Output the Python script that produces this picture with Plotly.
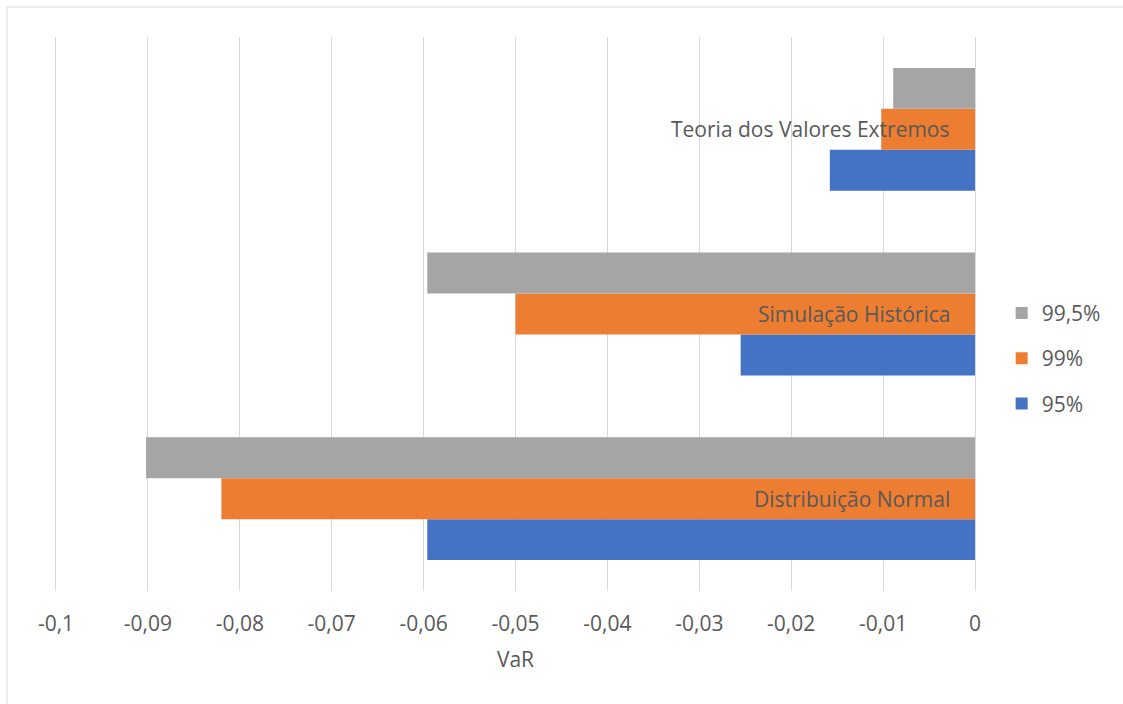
import plotly.graph_objects as go

# Value at Risk by method and confidence level
methods = ["Distribuição Normal", "Simulação Histórica", "Teoria dos Valores Extremos"]
levels = ["95%", "99%", "99,5%"]
var_95 = [-0.0596, -0.0255, -0.0158]
var_99 = [-0.0820, -0.0500, -0.0102]
var_995 = [-0.0902, -0.0596, -0.0089]
colors = ["#4472C4", "#ED7D31", "#A5A5A5"]
x_ticks = [-0.1, -0.09, -0.08, -0.07, -0.06, -0.05, -0.04, -0.03, -0.02, -0.01, 0]

FONT = "Open Sans"
TXT = "#595959"
GRID = "#D9D9D9"

fig = go.Figure()
for i, (name, vals, col) in enumerate(zip(levels, [var_95, var_99, var_995], colors)):
    fig.add_trace(go.Bar(
        y=methods, x=vals, name=name, orientation="h",
        marker=dict(color=col, line=dict(width=0)),
        legendgroup=name, legendrank=len(levels) - i,
    ))

# category names sit just left of the zero line, over the bars
annotations = [
    dict(x=0, y=m, xref="x", yref="y", text=m, showarrow=False,
         xanchor="right", yanchor="middle", xshift=-23,
         font=dict(family=FONT, size=21, color=TXT))
    for m in methods
]

fig.update_layout(
    width=1123, height=704,
    margin=dict(l=56, r=148, t=37, b=113),
    paper_bgcolor="white", plot_bgcolor="white",
    separators=", ",
    barmode="group", bargap=0.335, bargroupgap=0,
    font=dict(family=FONT, color=TXT, size=21),
    showlegend=True,
    legend=dict(
        x=1.029, y=0.42, xanchor="left", yanchor="middle",
        traceorder="grouped", tracegroupgap=15,
        font=dict(size=21, color=TXT), itemwidth=30,
    ),
    xaxis=dict(
        range=[-0.1, 0], tickvals=x_ticks,
        ticktext=[f"{v:g}".replace(".", ",") for v in x_ticks],
        showgrid=True, gridcolor=GRID, gridwidth=1,
        zeroline=False, showline=False, ticks="",
        tickfont=dict(size=21, color=TXT),
        ticklabelstandoff=18,
        title=dict(text="VaR", font=dict(size=21, color=TXT), standoff=16),
    ),
    yaxis=dict(
        showticklabels=False, showgrid=False, zeroline=False,
        showline=True, linecolor=GRID, linewidth=1, mirror=True, ticks="",
        categoryorder="array", categoryarray=methods,
    ),
    annotations=annotations,
    shapes=[
        dict(type="line", xref="paper", yref="paper",
             x0=(7 - 56) / 919, x1=(1130 - 56) / 919, y0=(591 - 7) / 554, y1=(591 - 7) / 554,
             line=dict(color=GRID, width=1)),
        dict(type="line", xref="paper", yref="paper",
             x0=(7 - 56) / 919, x1=(7 - 56) / 919, y0=(591 - 7) / 554, y1=(591 - 710) / 554,
             line=dict(color=GRID, width=1)),
    ],
)

fig.write_html("out.html")
